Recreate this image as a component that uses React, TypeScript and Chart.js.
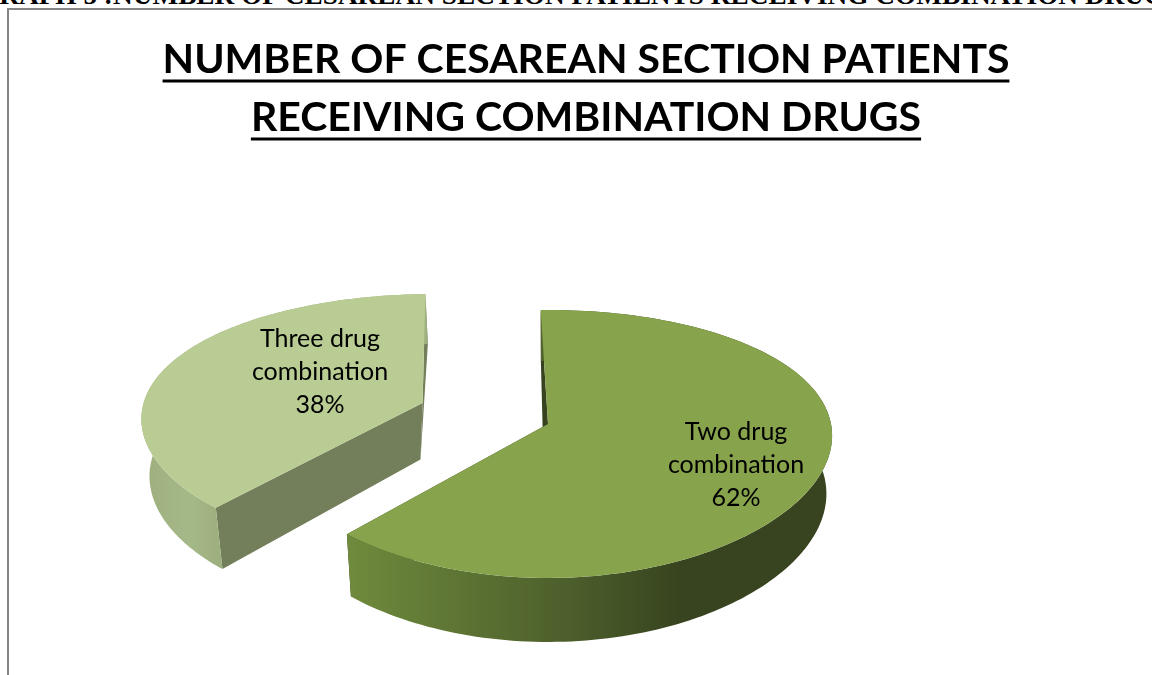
import React, { useEffect, useRef } from "react";
import { Chart, registerables } from "chart.js";

Chart.register(...registerables);

const categories = ["Two drug combination", "Three drug combination"];
const shares = [62, 38];
const titleLines = [
  "NUMBER OF CESAREAN SECTION PATIENTS",
  "RECEIVING COMBINATION DRUGS",
];
const captionText =
  "GRAPH 5 :NUMBER OF CESAREAN SECTION PATIENTS RECEIVING COMBINATION DRUGS";

const CANVAS_LEFT = 20;
const CANVAS_TOP = 10;

// Perspective of the tilted disc, in canvas pixels.
const CX = 548 - CANVAS_LEFT;
const CY = 424 - CANVAS_TOP;
const RX = 283;
const RY = 131;
const LEAN_X = 0.088;
const LEAN_Y = 0.149;
const DEPTH_SCALE = 0.98;
const DEPTH = 57.5;
const DEPTH_LEAN = 6.5;
const APEX_DRIFT = -4;

const TITLE_SIZE = 41;
const TITLE_LINE = 58;
const TITLE_PAD = 21;

type Pt = { x: number; y: number };

const top = (u: number, v: number): Pt => ({
  x: CX + (RX * u) / (1 - LEAN_X * v),
  y: CY + (RY * v) / (1 - LEAN_Y * v),
});

const bottom = (u: number, v: number): Pt => {
  const p = top(u, v);
  return {
    x: CX + DEPTH_SCALE * (p.x - CX),
    y: p.y + DEPTH + DEPTH_LEAN * v,
  };
};

const poly = (ctx: CanvasRenderingContext2D, pts: Pt[], fill: string | CanvasGradient) => {
  ctx.beginPath();
  pts.forEach((p, i) => (i ? ctx.lineTo(p.x, p.y) : ctx.moveTo(p.x, p.y)));
  ctx.closePath();
  ctx.fillStyle = fill;
  ctx.fill();
};

const sliceStyles = [
  {
    top: "#87a34c",
    cut: "#37431e",
    wallStops: [
      [350, "#6f8a3c"],
      [430, "#627a36"],
      [570, "#4c5e2b"],
      [680, "#37441f"],
      [830, "#37441f"],
    ],
    label: { x: 736, y: 465 },
  },
  {
    top: "#b9cc93",
    cut: "#737e5a",
    wallStops: [
      [147, "#9fb07f"],
      [190, "#a5b887"],
      [215, "#9eb07e"],
    ],
    label: { x: 320, y: 372 },
  },
];

const pie3d = {
  id: "pie3d",
  beforeDatasetsDraw(chart: any) {
    const ctx: CanvasRenderingContext2D = chart.ctx;
    const arcs = chart.getDatasetMeta(0).data;
    const order = [1, 0];
    ctx.save();
    for (const i of order) {
      const el = arcs[i];
      const style = sliceStyles[i];
      const { startAngle, endAngle, outerRadius } = el.getProps([
        "startAngle",
        "endAngle",
        "outerRadius",
      ]);
      const mid = (startAngle + endAngle) / 2;
      const d = (el.options.offset || 0) / outerRadius;
      const ou = Math.cos(mid) * d;
      const ov = Math.sin(mid) * d;

      const steps = 160;
      const rimTop: Pt[] = [];
      const rimBottom: Pt[] = [];
      for (let s = 0; s <= steps; s++) {
        const a = startAngle + ((endAngle - startAngle) * s) / steps;
        const u = Math.cos(a) + ou;
        const v = Math.sin(a) + ov;
        rimTop.push(top(u, v));
        rimBottom.push(bottom(u, v));
      }
      const apexTop = top(ou, ov);
      const apexBase = bottom(ou, ov);
      const apexBottom = { x: apexTop.x + APEX_DRIFT * (1 - d), y: apexBase.y };

      // Radial faces of the wedge.
      poly(ctx, [apexTop, rimTop[0], rimBottom[0], apexBottom], style.cut);
      poly(ctx, [apexTop, rimTop[steps], rimBottom[steps], apexBottom], style.cut);

      // Curved outer wall, shaded from left to right.
      const xs = style.wallStops.map((w) => (w[0] as number) - CANVAS_LEFT);
      const grad = ctx.createLinearGradient(xs[0], 0, xs[xs.length - 1], 0);
      style.wallStops.forEach((w, k) =>
        grad.addColorStop((xs[k] - xs[0]) / (xs[xs.length - 1] - xs[0]), w[1] as string),
      );
      poly(ctx, [...rimTop, ...[...rimBottom].reverse()], grad);

      // Top surface.
      poly(ctx, [apexTop, ...rimTop], style.top);
    }

    // Slice captions.
    const total = shares.reduce((a, b) => a + b, 0);
    ctx.fillStyle = "#000000";
    ctx.font = "25px Lato";
    ctx.textAlign = "center";
    ctx.textBaseline = "middle";
    categories.forEach((name, i) => {
      const words = name.split(" ");
      const lines = [
        words.slice(0, 2).join(" "),
        words.slice(2).join(" "),
        `${Math.round((shares[i] / total) * 100)}%`,
      ];
      const { x, y } = sliceStyles[i].label;
      lines.forEach((line, k) =>
        ctx.fillText(line, x - CANVAS_LEFT, y - CANVAS_TOP + (k - 1) * 33),
      );
    });
    ctx.restore();
    return false;
  },
  afterDraw(chart: any) {
    // Underline each line of the chart title.
    const ctx: CanvasRenderingContext2D = chart.ctx;
    ctx.save();
    ctx.font = `bold ${TITLE_SIZE}px Lato`;
    ctx.strokeStyle = "#000000";
    ctx.lineWidth = 3;
    titleLines.forEach((line, k) => {
      const w = ctx.measureText(line).width;
      const cx = chart.width / 2;
      const y = chart.titleBlock.top + TITLE_PAD + TITLE_LINE * (k + 1) - 8;
      ctx.beginPath();
      ctx.moveTo(cx - w / 2, y);
      ctx.lineTo(cx + w / 2, y);
      ctx.stroke();
    });
    ctx.restore();
  },
};

export default function App() {
  const ref = useRef<HTMLCanvasElement>(null);

  useEffect(() => {
    document.body.style.margin = "0";
    const chart = new Chart(ref.current!, {
      type: "pie",
      data: {
        labels: categories,
        datasets: [
          {
            data: shares,
            backgroundColor: sliceStyles.map((s) => s.top),
            borderWidth: 0,
            offset: [0, 100],
          },
        ],
      },
      options: {
        responsive: false,
        animation: false,
        rotation: -1.6,
        layout: { padding: 0 },
        plugins: {
          legend: { display: false },
          tooltip: { enabled: false },
          title: {
            display: true,
            text: titleLines,
            color: "#000000",
            padding: { top: TITLE_PAD, bottom: 10 },
            font: { family: "Lato", size: TITLE_SIZE, weight: "bold", lineHeight: TITLE_LINE / TITLE_SIZE },
          },
        },
      },
      plugins: [pie3d],
    } as any);
    return () => chart.destroy();
  }, []);

  return (
    <div style={{ position: "relative", width: 1152, height: 675, overflow: "hidden", background: "#fff" }}>
      <div
        style={{
          position: "absolute",
          left: -22,
          top: -15,
          width: 1400,
          fontFamily: '"Liberation Serif", serif',
          fontWeight: "bold",
          fontSize: 27.3,
          lineHeight: "20px",
          whiteSpace: "nowrap",
          color: "#000",
        }}
      >
        {captionText}
      </div>
      <div
        style={{
          position: "absolute",
          left: 7,
          top: 8,
          width: 1200,
          height: 700,
          borderLeft: "2px solid #868686",
          borderTop: "2px solid #868686",
        }}
      />
      <canvas
        ref={ref}
        width={1132}
        height={665}
        style={{ position: "absolute", left: CANVAS_LEFT, top: CANVAS_TOP, display: "block" }}
      />
    </div>
  );
}
